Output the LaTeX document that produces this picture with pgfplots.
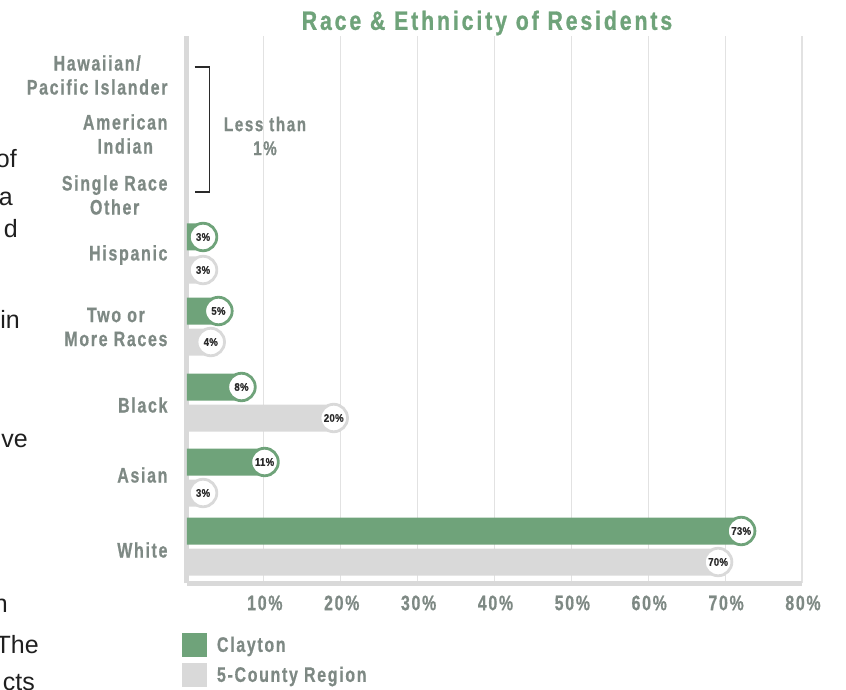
\documentclass[border=0pt]{standalone}
\usepackage{pgfplots}
\pgfplotsset{compat=1.18}
\usepackage{fontspec}
\setmainfont{Liberation Sans}
\newfontfamily\din{Liberation Sans}[FakeStretch=0.76,LetterSpace=8,FakeBold=0.7]
\newfontfamily\dintitle{Liberation Sans}[FakeStretch=0.8,LetterSpace=11,FakeBold=1]
\newfontfamily\dinsmall{Liberation Sans}[FakeStretch=0.88,LetterSpace=2,FakeBold=0.5]
\definecolor{cgreen}{HTML}{6FA37A}
\definecolor{cgray}{HTML}{D9D9D9}
\definecolor{ctext}{HTML}{7E8984}
\definecolor{cdark}{HTML}{2A2A2A}
\definecolor{cgrid}{HTML}{E2E2E2}
\begin{document}
\begin{tikzpicture}[x=1pt,y=1pt]
\useasboundingbox (0pt,0pt) rectangle (846pt,689pt);
% cut-off body text at the left page edge
\begin{scope}[every node/.style={anchor=base east,inner sep=0pt,font=\fontsize{25}{25}\selectfont,text=black!88}]
\node at (17pt,521pt) {of};
\node at (13pt,483pt) {a};
\node at (18pt,451pt) {d};
\node at (20pt,360pt) {in};
\node at (28pt,242pt) {ve};
\node at (8pt,77pt) {n};
\node at (39pt,36pt) {The};
\node at (35pt,-1pt) {cts};
\end{scope}
\node[font=\dintitle\bfseries\fontsize{26.5}{26.5}\selectfont,text=cgreen,inner sep=0pt] at (487pt,666pt) {Race \& Ethnicity of Residents};
\begin{axis}[
  at={(187pt,106pt)}, anchor=south west,
  scale only axis, width=615pt, height=547pt,
  xmin=0, xmax=80, ymin=106, ymax=653,
  clip=false,
  /pgf/number format/assume math mode=true,
  axis x line=bottom, axis y line=left,
  axis line style={-, line width=5pt, cgray},
  xtick={10,20,30,40,50,60,70,80},
  xticklabels={10\%,20\%,30\%,40\%,50\%,60\%,70\%,80\%},
  xticklabel style={font=\din\bfseries\fontsize{21}{21}\selectfont, text=ctext, xshift=1pt, yshift=-9pt},
  xmajorgrids, grid style={cgrid, line width=1.2pt},
  major tick length=0pt,
  ytick={614,555,494,434,362,284,214,139},
  yticklabels={{Hawaiian/\\Pacific Islander},{American\\Indian},{Single Race\\Other},Hispanic,{Two or\\More Races},Black,Asian,White},
  yticklabel style={font=\din\bfseries\fontsize{21}{24}\selectfont, text=ctext, align=center, xshift=-16pt},
  legend style={at={(axis description cs:-0.0081,-0.0914)}, anchor=north west, draw=none, fill=none,
    inner sep=0pt, outer sep=0pt, row sep=6pt,
    nodes={inner sep=0pt, anchor=west},
    font=\din\bfseries\fontsize{21}{21}\selectfont, text=ctext,
    /tikz/every odd column/.append style={column sep=10pt}},
  legend cell align=left,
]
\addplot[xbar, bar width=27pt, bar shift=0pt, fill=cgreen, draw=none,
  legend image code/.code={\fill[cgreen] (0pt,-12pt) rectangle (25pt,12pt);},
  point meta=x,
  nodes near coords={\pgfmathprintnumber{\pgfplotspointmeta}\%},
  every node near coord/.append style={anchor=center, xshift=-7pt, circle, fill=white, draw=cgreen,
    line width=2.8pt, minimum size=27.5pt, inner sep=0pt, text=cdark,
    font=\dinsmall\bfseries\fontsize{11}{11}\selectfont}]
  coordinates {(3,452) (5,378) (8,302) (11,227) (73,158)};
\addlegendentry{Clayton}
\addplot[xbar, bar width=27pt, bar shift=0pt, fill=cgray, draw=none,
  legend image code/.code={\fill[cgray] (0pt,-12pt) rectangle (25pt,12pt);},
  point meta=x,
  nodes near coords={\pgfmathprintnumber{\pgfplotspointmeta}\%},
  every node near coord/.append style={anchor=center, xshift=-7pt, circle, fill=white, draw=cgray,
    line width=2.8pt, minimum size=27.5pt, inner sep=0pt, text=cdark,
    font=\dinsmall\bfseries\fontsize{11}{11}\selectfont}]
  coordinates {(3,419) (4,347) (20,271) (3,196) (70,127)};
\addlegendentry{5-County Region}
% bracket for the groups below 1%
\draw[cdark, line width=1.2pt] (axis cs:1.0,622) -- (axis cs:2.9,622) -- (axis cs:2.9,497) -- (axis cs:1.0,497);
\node[font=\din\bfseries\fontsize{20}{24}\selectfont, text=ctext, align=center] at (axis cs:10.15,553) {Less than\\1\%};
\end{axis}
\end{tikzpicture}
\end{document}
